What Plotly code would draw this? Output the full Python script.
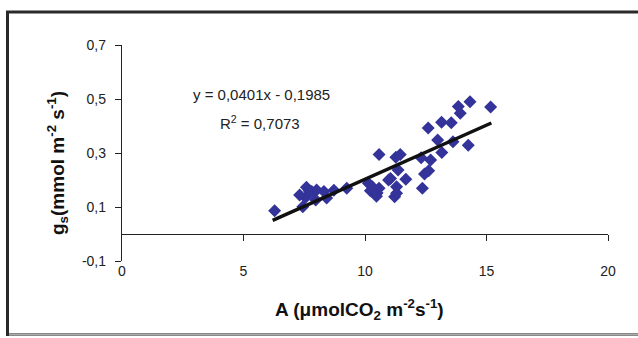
import plotly.graph_objects as go

# Data
a_values = [6.28, 7.31, 7.44, 7.55, 7.59, 7.70, 7.81, 7.97, 8.01, 8.31, 8.42, 8.72, 9.25,
            10.14, 10.22, 10.30, 10.47, 10.50, 10.58, 10.58, 10.97, 11.05, 11.22, 11.30,
            11.30, 11.36, 11.27, 11.45, 11.68, 12.31, 12.36, 12.45, 12.62, 12.70, 12.60,
            12.99, 13.16, 13.15, 13.55, 13.62, 13.84, 13.92, 14.25, 14.32, 15.17]
gs_values = [0.086, 0.144, 0.101, 0.135, 0.173, 0.160, 0.157, 0.126, 0.163, 0.157, 0.133, 0.162, 0.169,
             0.188, 0.160, 0.175, 0.140, 0.152, 0.169, 0.294, 0.200, 0.206, 0.138, 0.175,
             0.151, 0.237, 0.284, 0.294, 0.203, 0.282, 0.169, 0.222, 0.234, 0.274, 0.393,
             0.348, 0.302, 0.414, 0.412, 0.342, 0.472, 0.447, 0.329, 0.490, 0.470]

trend_slope = 0.0401
trend_intercept = -0.1985
trend_x = [6.2, 15.2]
trend_y = [trend_slope * v + trend_intercept for v in trend_x]

x_ticks = [0, 5, 10, 15, 20]
x_ticklabels = ["0", "5", "10", "15", "20"]
y_ticks = [-0.1, 0.1, 0.3, 0.5, 0.7]
y_ticklabels = ["-0,1", "0,1", "0,3", "0,5", "0,7"]

FONT = "Liberation Sans, Arial, sans-serif"
W, H = 638, 338
ML, MR, MT, MB = 122, 30, 45, 77
PW, PH = W - ML - MR, H - MT - MB


def px(xp):
    return (xp - ML) / PW


def py(yp):
    return (H - MB - yp) / PH


fig = go.Figure()
fig.add_trace(go.Scatter(
    x=a_values, y=gs_values, mode="markers",
    marker=dict(symbol="diamond", size=10, color="#333399", line=dict(width=0)),
    xaxis="x", yaxis="y", showlegend=False, hoverinfo="x+y"))
fig.add_trace(go.Scatter(
    x=trend_x, y=trend_y, mode="lines",
    line=dict(color="#111111", width=3.5),
    xaxis="x2", yaxis="y", showlegend=False, hoverinfo="skip"))

y_min, y_max = -0.1, 0.7
zero_pos = (0 - y_min) / (y_max - y_min)

fig.update_layout(
    width=W, height=H,
    margin=dict(l=ML, r=MR, t=MT, b=MB),
    paper_bgcolor="white", plot_bgcolor="white",
    font=dict(family=FONT, size=14, color="#222222"),
    xaxis=dict(range=[0, 20], tickvals=x_ticks, ticktext=x_ticklabels,
               showline=False, ticks="", showgrid=False, zeroline=False,
               tickfont=dict(size=14, color="#222222"), fixedrange=True),
    xaxis2=dict(range=[0, 20], overlaying="x", anchor="free", position=zero_pos,
                side="bottom", showline=True, linecolor="#222222", linewidth=1.3,
                ticks="outside", ticklen=6, tickwidth=1.3, tickcolor="#222222",
                tickvals=[5, 10, 15, 20], showticklabels=False,
                showgrid=False, zeroline=False, fixedrange=True),
    yaxis=dict(range=[y_min, y_max], tickvals=y_ticks, ticktext=y_ticklabels,
               showline=True, linecolor="#222222", linewidth=1.3,
               ticks="outside", ticklen=6, tickwidth=1.3, tickcolor="#222222",
               ticklabelstandoff=6,
               showgrid=False, zeroline=False,
               tickfont=dict(size=14, color="#222222"), fixedrange=True),
)

# Frame around the chart (dark top/left edges, light bottom edge)
fig.add_shape(type="rect", xref="paper", yref="paper",
              x0=px(7.5), x1=px(700), y0=py(334.5), y1=py(12),
              line=dict(color="#2a2a2a", width=3), fillcolor="rgba(0,0,0,0)",
              layer="above")
fig.add_shape(type="line", xref="paper", yref="paper",
              x0=px(9), x1=px(700), y0=py(334.5), y1=py(334.5),
              line=dict(color="#aaaaaa", width=2.5))

# Axis titles
fig.add_annotation(xref="paper", yref="paper", x=px(359), y=py(309),
                   text="<b>A (μmolCO<sub>2</sub> m<sup>-2</sup>s<sup>-1</sup>)</b>",
                   showarrow=False, xanchor="center", yanchor="middle",
                   font=dict(family=FONT, size=19, color="#111111"))
fig.add_annotation(xref="paper", yref="paper", x=px(57), y=py(163),
                   text="<b>g<sub>s</sub>(mmol m<sup>-2</sup> s<sup>-1</sup>)</b>",
                   showarrow=False, xanchor="center", yanchor="middle", textangle=-90,
                   font=dict(family=FONT, size=19, color="#111111"))

# Regression equation
fig.add_annotation(xref="paper", yref="paper", x=px(261), y=py(94),
                   text="y = 0,0401x - 0,1985", showarrow=False,
                   xanchor="center", yanchor="middle",
                   font=dict(family=FONT, size=15, color="#222222"))
fig.add_annotation(xref="paper", yref="paper", x=px(260), y=py(122),
                   text="R<sup>2</sup> = 0,7073", showarrow=False,
                   xanchor="center", yanchor="middle",
                   font=dict(family=FONT, size=15, color="#222222"))

fig.write_html("out.html",
               config={"displayModeBar": False},
               post_script="document.body.style.margin='0';document.body.style.padding='0';")
